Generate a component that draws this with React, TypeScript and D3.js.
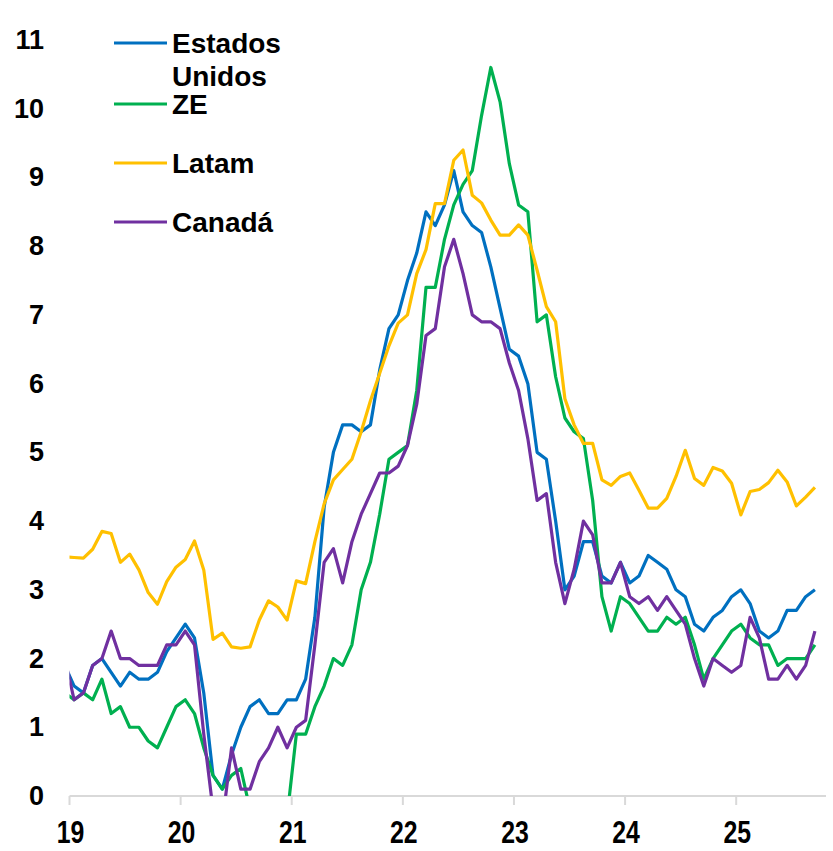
import React from "react";
import * as d3 from "d3";

// Monthly data, first value = Dec 2018, last = Sep 2025
const startYear = 2018;
const startMonth = 12;

const estadosUnidos = [
  1.9,
  1.6, 1.5, 1.9, 2.0, 1.8, 1.6, 1.8, 1.7, 1.7, 1.8, 2.1, 2.3,
  2.5, 2.3, 1.5, 0.3, 0.1, 0.6, 1.0, 1.3, 1.4, 1.2, 1.2, 1.4,
  1.4, 1.7, 2.6, 4.2, 5.0, 5.4, 5.4, 5.3, 5.4, 6.2, 6.8, 7.0,
  7.5, 7.9, 8.5, 8.3, 8.6, 9.1, 8.5, 8.3, 8.2, 7.7, 7.1, 6.5,
  6.4, 6.0, 5.0, 4.9, 4.0, 3.0, 3.2, 3.7, 3.7, 3.2, 3.1, 3.4,
  3.1, 3.2, 3.5, 3.4, 3.3, 3.0, 2.9, 2.5, 2.4, 2.6, 2.7, 2.9,
  3.0, 2.8, 2.4, 2.3, 2.4, 2.7, 2.7, 2.9, 3.0,
];

const zonaEuro = [
  1.5,
  1.4, 1.5, 1.4, 1.7, 1.2, 1.3, 1.0, 1.0, 0.8, 0.7, 1.0, 1.3,
  1.4, 1.2, 0.7, 0.3, 0.1, 0.3, 0.4, -0.2, -0.3, -0.3, -0.3, -0.3,
  0.9, 0.9, 1.3, 1.6, 2.0, 1.9, 2.2, 3.0, 3.4, 4.1, 4.9, 5.0,
  5.1, 5.9, 7.4, 7.4, 8.1, 8.6, 8.9, 9.1, 9.9, 10.6, 10.1, 9.2,
  8.6, 8.5, 6.9, 7.0, 6.1, 5.5, 5.3, 5.2, 4.3, 2.9, 2.4, 2.9,
  2.8, 2.6, 2.4, 2.4, 2.6, 2.5, 2.6, 2.2, 1.7, 2.0, 2.2, 2.4,
  2.5, 2.3, 2.2, 2.2, 1.9, 2.0, 2.0, 2.0, 2.2,
];

const latam = [
  3.48,
  3.47, 3.46, 3.59, 3.85, 3.82, 3.40, 3.52, 3.29, 2.96, 2.79, 3.12, 3.33,
  3.44, 3.71, 3.29, 2.28, 2.37, 2.17, 2.15, 2.17, 2.56, 2.84, 2.75, 2.56,
  3.13, 3.09, 3.7, 4.25, 4.6, 4.75, 4.9, 5.3, 5.75, 6.15, 6.55, 6.88,
  7.0, 7.6, 7.95, 8.62, 8.62, 9.25, 9.4, 8.74, 8.63, 8.38, 8.16, 8.16,
  8.31, 8.16, 7.65, 7.12, 6.9, 5.78, 5.4, 5.13, 5.13, 4.6, 4.52, 4.65,
  4.7, 4.45, 4.19, 4.19, 4.33, 4.65, 5.03, 4.62, 4.52, 4.78, 4.73, 4.55,
  4.09, 4.43, 4.46, 4.56, 4.74, 4.57, 4.22, 4.35, 4.49,
];

const canada = [
  2.0,
  1.4, 1.5, 1.9, 2.0, 2.4, 2.0, 2.0, 1.9, 1.9, 1.9, 2.2, 2.2,
  2.4, 2.2, 0.9, -0.2, -0.4, 0.7, 0.1, 0.1, 0.5, 0.7, 1.0, 0.7,
  1.0, 1.1, 2.2, 3.4, 3.6, 3.1, 3.7, 4.1, 4.4, 4.7, 4.7, 4.8,
  5.1, 5.7, 6.7, 6.8, 7.7, 8.1, 7.6, 7.0, 6.9, 6.9, 6.8, 6.3,
  5.9, 5.2, 4.3, 4.4, 3.4, 2.8, 3.3, 4.0, 3.8, 3.1, 3.1, 3.4,
  2.9, 2.8, 2.9, 2.7, 2.9, 2.7, 2.5, 2.0, 1.6, 2.0, 1.9, 1.8,
  1.9, 2.6, 2.3, 1.7, 1.7, 1.9, 1.7, 1.9, 2.4,
];

const seriesNames = ["Estados Unidos", "ZE", "Latam", "Canadá"];
const seriesColors = ["#0070C0", "#00B050", "#FFC000", "#7030A0"];
const xTickLabels = ["19", "20", "21", "22", "23", "24", "25"];
const yTicks = [0, 1, 2, 3, 4, 5, 6, 7, 8, 9, 10, 11];

// month index (0 = Dec 2018) of the first month of each labelled year
const yearStartIndex = xTickLabels.map(
  (t) => (2000 + Number(t) - startYear) * 12 - (startMonth - 1)
);

const W = 833;
const H = 851;

export default function App() {
  const series = [estadosUnidos, zonaEuro, latam, canada];

  const x = d3.scaleLinear().domain([0.5, 72.5]).range([69.5, 736.2]);
  const y = d3.scaleLinear().domain([0, 11]).range([796, 40]);

  const line = d3
    .line<number>()
    .x((_, i) => x(i))
    .y((d) => y(d));

  const axisY = y(0);
  const axisLeft = x(0.5);

  const legendX = 114;
  const legendLen = 53;
  const legendYs = [43, 104, 163, 222];
  const font = "'Liberation Sans', Arial, sans-serif";

  return (
    <svg
      width={W}
      height={H}
      style={{ position: "absolute", left: 0, top: 0, background: "#fff" }}
    >
      <defs>
        <clipPath id="plotClip">
          <rect x={axisLeft} y={0} width={W - axisLeft} height={axisY} />
        </clipPath>
      </defs>

      {/* y labels */}
      {yTicks.map((t) => (
        <text
          key={t}
          x={44}
          y={y(t)}
          textAnchor="end"
          dominantBaseline="central"
          fontFamily={font}
          fontWeight="bold"
          fontSize={27}
          fill="#000"
        >
          {t}
        </text>
      ))}

      {/* x axis */}
      <line x1={axisLeft} x2={826} y1={axisY} y2={axisY} stroke="#d9d9d9" strokeWidth={2} />
      {yearStartIndex.map((k, i) => (
        <g key={i}>
          <line
            x1={x(k - 0.5)}
            x2={x(k - 0.5)}
            y1={axisY}
            y2={axisY + 9}
            stroke="#d9d9d9"
            strokeWidth={2}
          />
          <g transform={`translate(${x(k - 0.5) + 1},843) scale(0.8,1)`}>
            <text
              x={0}
              y={0}
              textAnchor="middle"
              fontFamily={font}
              fontWeight="bold"
              fontSize={31}
              fill="#000"
            >
              {xTickLabels[i]}
            </text>
          </g>
        </g>
      ))}

      {/* lines */}
      <g clipPath="url(#plotClip)">
        {series.map((s, i) => (
          <path
            key={seriesNames[i]}
            d={line(s) || ""}
            fill="none"
            stroke={seriesColors[i]}
            strokeWidth={3.2}
            strokeLinejoin="round"
          />
        ))}
      </g>

      {/* legend */}
      {seriesNames.map((name, i) => {
        const ly = legendYs[i];
        const words = name === "Estados Unidos" ? ["Estados", "Unidos"] : [name];
        return (
          <g key={name}>
            <line
              x1={legendX}
              x2={legendX + legendLen}
              y1={ly}
              y2={ly}
              stroke={seriesColors[i]}
              strokeWidth={3}
            />
            {words.map((w, j) => (
              <text
                key={j}
                x={legendX + legendLen + 5}
                y={ly + 10 + j * 33}
                fontFamily={font}
                fontWeight="bold"
                fontSize={28}
                fill="#000"
              >
                {w}
              </text>
            ))}
          </g>
        );
      })}
    </svg>
  );
}
